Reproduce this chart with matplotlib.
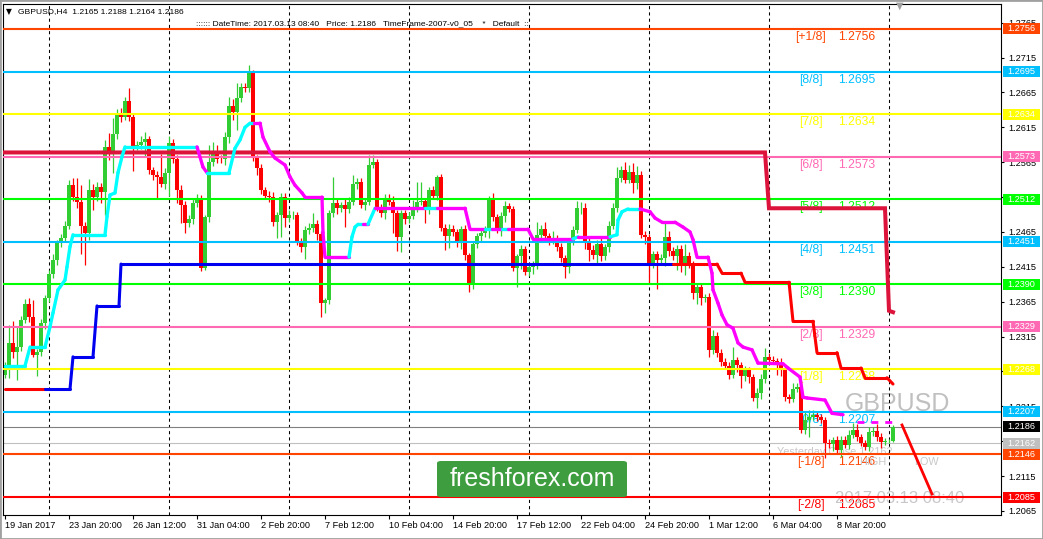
import numpy as np
import matplotlib.pyplot as plt
from matplotlib.patches import Rectangle, FancyBboxPatch
from matplotlib.transforms import blended_transform_factory

plt.rcParams['font.family'] = ['Liberation Sans', 'DejaVu Sans']

# GBPUSD H4 candles, 19 Jan - 13 Mar 2017, closes in pips above 1.2000
first_open = 260
closes = [274, 306, 293, 300, 339, 362, 343, 289, 293, 334,
          370, 405, 425, 449, 456, 474, 532, 515, 508, 474,
          464, 525, 515, 530, 522, 587, 578, 605, 636, 630,
          653, 630, 588, 590, 594, 598, 554, 547, 544, 534,
          550, 593, 570, 525, 504, 478, 484, 507, 514, 413,
          486, 565, 578, 570, 569, 601, 646, 637, 657, 673,
          671, 694, 571, 557, 525, 517, 515, 479, 489, 515,
          485, 489, 490, 451, 443, 468, 471, 476, 462, 363,
          367, 492, 507, 499, 503, 498, 508, 534, 537, 504,
          508, 561, 565, 499, 492, 514, 508, 492, 458, 492,
          484, 488, 498, 508, 509, 497, 525, 517, 544, 471,
          459, 469, 465, 451, 469, 432, 392, 448, 459, 464,
          468, 511, 486, 471, 488, 502, 498, 413, 431, 441,
          408, 415, 418, 461, 469, 459, 453, 456, 443, 428,
          415, 451, 468, 499, 500, 451, 439, 432, 448, 431,
          443, 474, 500, 542, 554, 540, 551, 535, 547, 461,
          458, 421, 433, 425, 428, 458, 438, 431, 441, 416,
          431, 419, 377, 386, 370, 372, 296, 316, 291, 279,
          273, 260, 281, 274, 258, 267, 257, 227, 234, 254,
          286, 281, 280, 277, 270, 228, 226, 240, 243, 181,
          195, 200, 203, 200, 195, 162, 161, 167, 152, 167,
          160, 174, 181, 171, 162, 157, 178, 180, 171, 164,
          165, 165, 186]
# upper / lower shadow lengths in pips
up_wick = [5, 26, 31, 29, 6, 7, 8, 25, 4, 6,
           5, 6, 8, 5, 6, 7, 8, 10, 28, 24,
           5, 16, 9, 6, 5, 10, 20, 23, 6, 7,
           6, 19, 4, 5, 8, 11, 5, 4, 5, 33,
           6, 10, 6, 5, 8, 6, 5, 6, 5, 4,
           3, 24, 16, 12, 5, 8, 13, 10, 21, 5,
           6, 10, 3, 4, 6, 5, 7, 8, 5, 6,
           6, 7, 5, 4, 6, 5, 7, 16, 6, 4,
           3, 4, 37, 6, 5, 10, 7, 13, 5, 6,
           5, 14, 10, 4, 6, 6, 6, 8, 5, 4,
           5, 6, 13, 29, 27, 4, 5, 6, 3, 4,
           5, 8, 6, 4, 5, 6, 3, 4, 5, 6,
           6, 6, 10, 5, 5, 8, 5, 4, 3, 5,
           4, 5, 6, 19, 6, 10, 4, 10, 5, 6,
           4, 5, 5, 10, 8, 6, 5, 8, 6, 8,
           5, 7, 6, 16, 6, 12, 10, 13, 12, 5,
           6, 4, 5, 5, 5, 20, 8, 5, 6, 6,
           17, 5, 5, 5, 6, 4, 5, 8, 5, 6,
           6, 5, 19, 5, 5, 6, 5, 4, 8, 8,
           13, 6, 6, 5, 8, 5, 5, 8, 5, 10,
           12, 10, 7, 6, 4, 5, 6, 4, 5, 6,
           5, 7, 10, 8, 4, 5, 8, 6, 9, 6,
           4, 3, 2]
dn_wick = [4, 19, 9, 40, 6, 5, 7, 3, 31, 6,
           8, 5, 6, 7, 5, 6, 5, 6, 8, 41,
           47, 10, 18, 5, 16, 33, 10, 29, 6, 7,
           5, 6, 36, 5, 6, 22, 6, 8, 30, 5,
           8, 33, 6, 19, 26, 14, 6, 7, 6, 4,
           3, 7, 5, 6, 5, 8, 9, 12, 26, 5,
           5, 5, 4, 10, 6, 5, 7, 5, 23, 31,
           13, 6, 5, 4, 6, 17, 6, 6, 8, 20,
           14, 5, 6, 8, 5, 26, 6, 5, 8, 4,
           8, 5, 5, 4, 5, 8, 5, 29, 20, 21,
           8, 6, 5, 4, 5, 19, 6, 5, 6, 5,
           20, 17, 6, 8, 10, 7, 13, 9, 6, 8,
           6, 11, 5, 8, 12, 8, 5, 4, 27, 19,
           4, 6, 10, 6, 8, 6, 6, 5, 5, 6,
           16, 9, 5, 5, 8, 11, 15, 6, 12, 8,
           6, 6, 5, 6, 6, 5, 5, 14, 8, 5,
           10, 29, 8, 42, 5, 12, 8, 6, 20, 8,
           12, 5, 8, 15, 10, 5, 10, 6, 5, 6,
           5, 6, 5, 10, 16, 6, 8, 4, 14, 9,
           5, 6, 5, 17, 12, 5, 6, 5, 5, 4,
           5, 24, 5, 6, 4, 21, 6, 10, 5, 10,
           5, 6, 5, 6, 4, 5, 6, 5, 6, 8,
           4, 2, 1]

# x axis labels, one every 16 bars
tick_bars = [0, 16, 32, 48, 64, 80, 96, 112, 128, 144, 160, 176, 192, 208]
tick_text = ['19 Jan 2017', '23 Jan 20:00', '26 Jan 12:00', '31 Jan 04:00', '2 Feb 20:00',
             '7 Feb 12:00', '10 Feb 04:00', '14 Feb 20:00', '17 Feb 12:00', '22 Feb 04:00',
             '24 Feb 20:00', '1 Mar 12:00', '6 Mar 04:00', '8 Mar 20:00']
grid_bars = [11, 41, 71, 101, 131, 161, 191, 221]

# Murrey math levels
mm_levels = [1.2756, 1.2695, 1.2634, 1.2573, 1.2512, 1.2451, 1.2390, 1.2329, 1.2268, 1.2207, 1.2146, 1.2085]
mm_names = ['[+1/8]', '[8/8]', '[7/8]', '[6/8]', '[5/8]', '[4/8]', '[3/8]', '[2/8]', '[1/8]', '[0/8]', '[-1/8]', '[-2/8]']
mm_colors = ['#FF4500', '#00BFFF', '#FFFF00', '#FF69B4', '#00FF00', '#00BFFF',
             '#00FF00', '#FF69B4', '#FFFF00', '#00BFFF', '#FF4500', '#FF0000']
bid_price = 1.2186
yclose_price = 1.2162

# crimson step line
crim_x = [0, 190, 191, 220, 221, 222]
crim_y = [1.2579, 1.2579, 1.2499, 1.2499, 1.2352, 1.2350]

# trend stop line (b = blue, r = red), colour is of the segment ending at the point
st_x = [0, 10, 16.25, 17, 22, 23, 28.5, 29, 167, 178, 179.25, 184, 185, 196, 197,
        202, 203, 208, 209, 214, 215, 220.5, 222]
st_y = [1.2240, 1.2240, 1.2240, 1.2286, 1.2286, 1.2359, 1.2359, 1.2419, 1.2419, 1.2419,
        1.2406, 1.2406, 1.2393, 1.2393, 1.2337, 1.2337, 1.2292, 1.2292, 1.2270, 1.2270,
        1.2256, 1.2256, 1.2247]
st_c = ['r', 'r', 'b', 'b', 'b', 'b', 'b', 'b', 'b', 'r', 'r', 'r', 'r', 'r', 'r',
        'r', 'r', 'r', 'r', 'r', 'r', 'r', 'r']

# moving average (c = cyan rising, m = magenta falling)
ma_x = [0, 5, 6.25, 10, 11.25, 12, 13.25, 15, 15.5, 16.25, 17, 25, 25.5, 26.25, 27.5, 28.25,
        29.25, 30, 48, 49.5, 50.5, 56, 57.5, 58.75, 60, 61.25, 62.25, 63.75, 64.5, 66.25, 67.5,
        70, 71.25, 72.5, 74.25, 75, 79.25, 79.5, 80, 86, 86.75, 87.5, 88.25, 89.5, 90.75,
        92.5, 105, 108, 115, 116.25, 120, 121.75, 124.25, 125.75, 130.75, 132, 142, 143.25,
        151.25, 153, 153.25, 154.25, 155.75, 158.75, 161.25, 162.5, 164.25, 167.5, 169.5,
        171.25, 172, 173, 175.75, 176.75, 177, 178.25, 179.25, 180.5, 182, 183.25, 184.5,
        186.75, 188.25, 194.5, 195.75, 198.75, 199.5, 200.5, 205, 206.75, 209.5]
ma_y = [1.2273, 1.2273, 1.2300, 1.2300, 1.2329, 1.2349, 1.2382, 1.2396, 1.2415, 1.2444,
        1.2461, 1.2461, 1.2487, 1.2518, 1.2521, 1.2550, 1.2573, 1.2587, 1.2587, 1.2558,
        1.2550, 1.2550, 1.2585, 1.2597, 1.2615, 1.2621, 1.2621, 1.2621, 1.2601, 1.2580,
        1.2571, 1.2561, 1.2544, 1.2532, 1.2521, 1.2515, 1.2515, 1.2464, 1.2429, 1.2429,
        1.2458, 1.2472, 1.2476, 1.2476, 1.2476, 1.2499, 1.2499, 1.2499, 1.2499, 1.2469,
        1.2469, 1.2469, 1.2469, 1.2469, 1.2469, 1.2455, 1.2455, 1.2458, 1.2458, 1.2461,
        1.2482, 1.2494, 1.2498, 1.2498, 1.2494, 1.2485, 1.2479, 1.2479, 1.2472, 1.2465,
        1.2454, 1.2429, 1.2429, 1.2406, 1.2382, 1.2363, 1.2346, 1.2332, 1.2327, 1.2306,
        1.2300, 1.2296, 1.2277, 1.2276, 1.2270, 1.2257, 1.2228, 1.2227, 1.2224, 1.2205,
        1.2203]
ma_c = ['c', 'c', 'c', 'c', 'c', 'c', 'c', 'c', 'c', 'c', 'c', 'c', 'c', 'c', 'c', 'c',
        'c', 'c', 'c', 'm', 'm', 'c', 'c', 'c', 'c', 'c', 'c', 'm', 'm', 'm', 'm',
        'm', 'm', 'm', 'm', 'm', 'm', 'm', 'm', 'm', 'c', 'c', 'c', 'c', 'm',
        'c', 'm', 'c', 'm', 'm', 'm', 'c', 'm', 'c', 'm', 'm', 'm', 'c',
        'm', 'c', 'c', 'c', 'c', 'c', 'm', 'm', 'm', 'm', 'm',
        'm', 'm', 'm', 'm', 'm', 'm', 'm', 'm', 'm', 'm', 'm', 'm',
        'm', 'm', 'm', 'm', 'm', 'm', 'm', 'm', 'm', 'm']
ma_tail_x = [213, 222]
ma_tail_y = [1.2193, 1.2193]

# hand drawn red trend line
trend_x = [224.25, 231.75]
trend_y = [1.21883, 1.20893]

W, H = 1043, 539
fig = plt.figure(figsize=(W / 100, H / 100), dpi=100)
fig.patch.set_facecolor('white')
ax = fig.add_axes([3 / W, (H - 515) / H, 998 / W, 511 / H])
ax.set_xlim(-0.5, 249)
ax.set_ylim(1.205923, 1.279184)

c = 1.2 + np.array(closes) / 10000
o = np.concatenate([[1.2 + first_open / 10000], c[:-1]])
hi = np.maximum(o, c) + np.array(up_wick) / 10000
lo = np.minimum(o, c) - np.array(dn_wick) / 10000
idx = np.arange(len(c))
bull = c >= o
cols = np.where(bull, '#32CD32', '#FF0000')

#candles
ax.vlines(idx, lo, hi, colors=cols, lw=0.9, zorder=2)
body = np.maximum(np.abs(c - o), 0.00010)
ax.bar(idx, body, bottom=np.minimum(o, c), width=0.8, color=cols, lw=0, zorder=2)

#background labels
for lvl, nm, col in zip(mm_levels, mm_names, mm_colors):
    ax.axhline(lvl, color=col, lw=1.5, zorder=3)
    ax.text(201.5, lvl - 0.00115, nm, color=col, fontsize=8.7, ha='center', va='center', zorder=1)
    ax.text(208.25, lvl - 0.00115, f'{lvl:.4f}', color=col, fontsize=8.7, ha='left', va='center', zorder=1)
ax.axhline(bid_price, color='#808080', lw=0.8, zorder=1.8)
ax.axhline(yclose_price, color='#C0C0C0', lw=0.8, zorder=1.8)

ax.text(223, 1.22184, 'GBPUSD', color='#C0C0C0', fontsize=18, ha='center', va='center', zorder=1)
ax.text(193, 1.21496, 'Yesterday Close 1.2162', color='#C8C8C8', fontsize=7.8, ha='left', va='center', zorder=1)
ax.text(220.25, 1.21352, 'HIGH', color='#C8C8C8', fontsize=7.8, ha='right', va='center', zorder=1)
ax.text(227.25, 1.21352, 'LOW', color='#C8C8C8', fontsize=7.8, ha='left', va='center', zorder=1)
ax.text(207.5, 1.20836, '2017.03.13 08:40', color='#C8C8C8', fontsize=12, ha='left', va='center', zorder=1)

#weekly grid
for g in grid_bars:
    ax.axvline(g, color='black', lw=0.75, dashes=(3, 3), zorder=1.5)

#indicators
ax.plot(crim_x, crim_y, color='#DC143C', lw=2.9, zorder=4, solid_joinstyle='miter')
st_cols = {'r': '#FF0000', 'b': '#0000F0'}
for k in range(1, len(st_x)):
    ax.plot(st_x[k - 1:k + 1], st_y[k - 1:k + 1], color=st_cols[st_c[k]], lw=2.2,
            solid_capstyle='round', zorder=4)
ma_cols = {'c': '#00FFFF', 'm': '#FF00FF'}
for k in range(1, len(ma_x)):
    ax.plot(ma_x[k - 1:k + 1], ma_y[k - 1:k + 1], color=ma_cols[ma_c[k]], lw=2.4,
            solid_capstyle='round', zorder=4.5)
ax.plot(ma_tail_x, ma_tail_y, color='#FF00FF', lw=2.0, dashes=(2.5, 2.5), zorder=4.5)
ax.plot(trend_x, trend_y, color='#FF0000', lw=2.0, zorder=4)

#axes
for s in ax.spines.values():
    s.set_color('black')
    s.set_linewidth(0.8)
ax.yaxis.tick_right()
yt = np.arange(1.2065, 1.2766, 0.005)
ax.set_yticks(yt)
ax.set_yticklabels([f'{v:.4f}' for v in yt])
ax.tick_params(axis='y', direction='out', length=2.5, width=0.8, pad=3, labelsize=6.6)
ax.set_xticks(tick_bars)
ax.set_xticklabels(tick_text)
for lb in ax.get_xticklabels():
    lb.set_horizontalalignment('left')
ax.tick_params(axis='x', direction='out', length=3, width=0.8, pad=1.5, labelsize=6.6)

#price boxes on the axis
bt = blended_transform_factory(ax.transAxes, ax.transData)
box_h = 11 / 6975
box_vals = mm_levels + [bid_price, yclose_price]
box_cols = mm_colors + ['#000000', '#C0C0C0']
for v, col in zip(box_vals, box_cols):
    ax.add_patch(Rectangle((1.002, v - box_h / 2), 0.0371, box_h, transform=bt,
                           facecolor=col, edgecolor='none', clip_on=False, zorder=6))
    ax.text(1.0205, v, f'{v:.4f}', transform=bt, color='white', fontsize=6.6,
            ha='center', va='center', clip_on=False, zorder=7)

#header
fig.text(6 / W, 1 - 12 / H, '\u25BC', fontsize=5.5, family='DejaVu Sans', va='center')
fig.text(18 / W, 1 - 12 / H, 'GBPUSD,H4  1.2165 1.2188 1.2164 1.2186', fontsize=6.1, va='center')
fig.text(196 / W, 1 - 24 / H,
         ':::::: DateTime: 2017.03.13 08:40   Price: 1.2186   TimeFrame-2007-v0_05    *   Default  ::',
         fontsize=6.0, va='center')
fig.text(900 / W, 1 - 6 / H, '\u25BC', fontsize=7, family='DejaVu Sans', color='#A0A0A0',
         ha='center', va='center')

#watermark badge
fig.patches.append(FancyBboxPatch((437 / W, 1 - 497 / H), 190 / W, 36 / H,
                                  boxstyle='round,pad=0,rounding_size=0.004',
                                  transform=fig.transFigure, facecolor='#3E9D3E', edgecolor='none', zorder=8))
fig.text(532 / W, 1 - 479 / H, 'freshforex.com', color='white', fontsize=18,
         ha='center', va='center', zorder=9)

fig.patches.append(Rectangle((0, 0), 1, 1, transform=fig.transFigure, fill=False,
                             edgecolor='#A0A0A0', lw=2, zorder=10))

fig.savefig('out.png', dpi=100)
